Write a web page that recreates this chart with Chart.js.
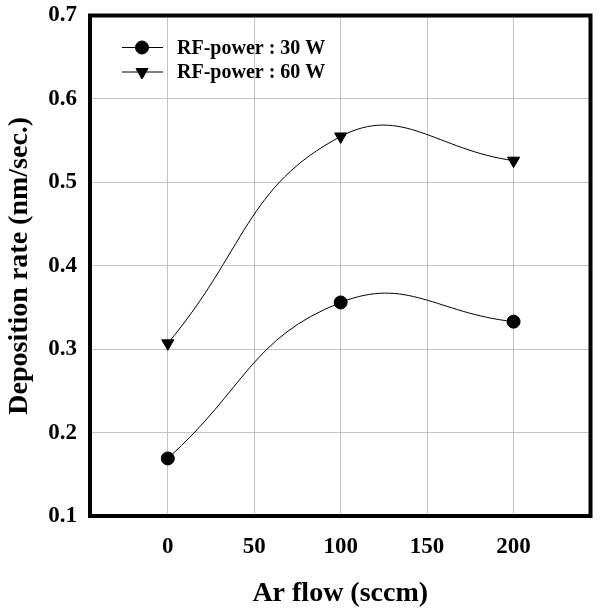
<!DOCTYPE html>
<html>
<head>
<meta charset="utf-8">
<title>Deposition rate vs Ar flow</title>
<script src="https://cdn.jsdelivr.net/npm/chart.js@4"></script>
<style>
    html, body { margin: 0; padding: 0; background: #fff; }
    #wrap { width: 608px; height: 611px; position: relative; }
</style>
</head>
<body>
<div id="wrap"><canvas id="chart"></canvas></div>
<script>
// ===== Data =====
const arFlow = [0, 100, 200];
const rate30W = [0.169, 0.356, 0.333];
const rate60W = [0.307, 0.555, 0.526];
const seriesLabels = ["RF-power : 30 W", "RF-power : 60 W"];
const xTicks = [0, 50, 100, 150, 200];
const yTicks = [0.1, 0.2, 0.3, 0.4, 0.5, 0.6, 0.7];

const FONT = "'Liberation Serif', 'Times New Roman', serif";

// ===== Frame around plot area =====
const framePlugin = {
    id: "frame",
    afterDatasetsDraw(chart) {
        const { ctx, chartArea: a } = chart;
        ctx.save();
        ctx.strokeStyle = "#000";
        ctx.lineWidth = 4;
        ctx.strokeRect(a.left, a.top, a.right - a.left, a.bottom - a.top);
        ctx.restore();
    }
};

// ===== Legend: line + marker + label =====
const legendPlugin = {
    id: "lineLegend",
    afterDraw(chart) {
        const ctx = chart.ctx;
        ctx.save();
        ctx.font = "bold 20px " + FONT;
        ctx.textBaseline = "middle";
        chart.data.datasets.forEach(function(ds, i) {
            const y = 47.5 + i * 24.5;
            ctx.strokeStyle = "#000";
            ctx.fillStyle = "#000";
            ctx.lineWidth = 1;
            ctx.beginPath();
            ctx.moveTo(122, y);
            ctx.lineTo(163, y);
            ctx.stroke();
            Chart.helpers.drawPoint(ctx, {
                pointStyle: ds.pointStyle,
                radius: ds.pointRadius,
                rotation: ds.pointRotation || 0,
                borderWidth: 1
            }, 142, y);
            ctx.fillStyle = "#000";
            ctx.fillText(ds.label, 177, y + 1);
        });
        ctx.restore();
    }
};

new Chart(document.getElementById("chart"), {
    type: "line",
    data: {
        datasets: [
            {
                label: seriesLabels[0],
                data: arFlow.map((x, i) => ({ x: x, y: rate30W[i] })),
                borderColor: "#000",
                backgroundColor: "#000",
                borderWidth: 1,
                pointStyle: "circle",
                pointRadius: 6.5,
                tension: 0.45
            },
            {
                label: seriesLabels[1],
                data: arFlow.map((x, i) => ({ x: x, y: rate60W[i] })),
                borderColor: "#000",
                backgroundColor: "#000",
                borderWidth: 1,
                pointStyle: "triangle",
                pointRotation: 180,
                pointRadius: 7,
                tension: 0.45
            }
        ]
    },
    options: {
        responsive: true,
        maintainAspectRatio: false,
        animation: false,
        layout: { padding: { top: 15.5, right: 17.5, left: 0, bottom: 0 } },
        plugins: {
            legend: { display: false },
            tooltip: { enabled: false }
        },
        scales: {
            x: {
                type: "linear",
                min: -45,
                max: 244.5,
                afterBuildTicks: function(s) { s.ticks = xTicks.map(v => ({ value: v })); },
                afterFit: function(s) { s.height = 95; s.paddingLeft = 0; s.paddingRight = 0; },
                grid: { color: "#c4c4c4", lineWidth: 1, drawTicks: false },
                border: { display: false },
                ticks: {
                    color: "#000",
                    padding: 17,
                    font: { family: FONT, size: 23, weight: "bold" }
                },
                title: {
                    display: true,
                    text: "Ar flow (sccm)",
                    color: "#000",
                    padding: { top: 6, bottom: 0 },
                    font: { family: FONT, size: 28, weight: "bold" }
                }
            },
            y: {
                type: "linear",
                min: 0.1,
                max: 0.7,
                afterBuildTicks: function(s) { s.ticks = yTicks.map(v => ({ value: v })); },
                afterFit: function(s) { s.width = 90; s.paddingTop = 0; s.paddingBottom = 0; },
                grid: { color: "#c4c4c4", lineWidth: 1, drawTicks: false },
                border: { display: false },
                ticks: {
                    color: "#000",
                    padding: 13,
                    font: { family: FONT, size: 23, weight: "bold" },
                    callback: function(v) { return v.toFixed(1); }
                },
                title: {
                    display: true,
                    text: "Deposition rate (nm/sec.)",
                    color: "#000",
                    padding: { top: 3, bottom: 0 },
                    font: { family: FONT, size: 28, weight: "bold" }
                }
            }
        }
    },
    plugins: [framePlugin, legendPlugin]
});
</script>
</body>
</html>
